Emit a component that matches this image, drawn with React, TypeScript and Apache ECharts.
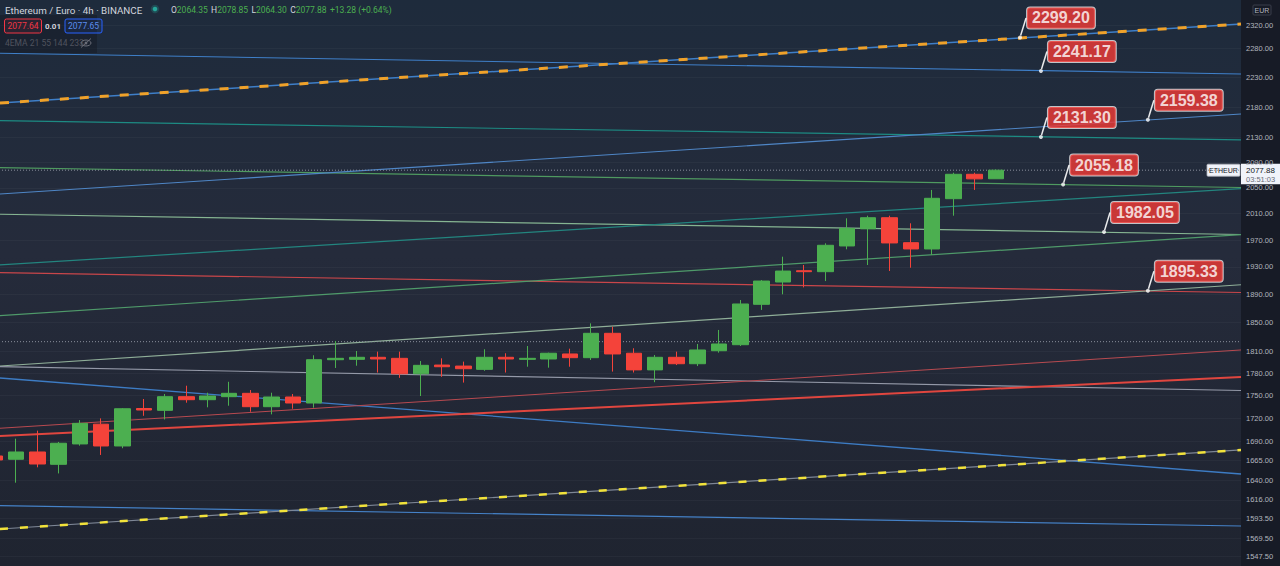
import React, { useEffect, useRef } from "react";
import * as echarts from "echarts";

// ---------- data ----------
const categories = Array.from({ length: 59 }, (_, i) => `bar${i + 1}`);

const candleOpen = [
  1670.9, 1666.7, 1676.0, 1660.3, 1686.3, 1711.9, 1683.7, 1732.5, 1730.1, 1748.2,
  1744.2, 1748.2, 1752.7, 1734.9, 1747.8, 1739.8, 1798.2, 1798.7, 1801.5, 1800.1,
  1779.0, 1790.9, 1789.5, 1785.0, 1801.5, 1798.7, 1799.2, 1806.1, 1801.0, 1834.8,
  1807.1, 1784.3, 1801.5, 1792.7, 1810.6, 1818.9, 1875.8, 1908.0, 1924.5, 1923.1,
  1961.2, 1987.0, 2003.9, 1966.1, 1956.7, 2033.2, 2071.4, 2064.35,
];
const candleClose = [
  1665.8, 1676.0, 1660.7, 1687.2, 1713.0, 1683.7, 1732.2, 1730.5, 1748.2, 1744.2,
  1749.1, 1752.7, 1734.9, 1747.8, 1739.8, 1798.2, 1800.1, 1801.5, 1799.2, 1779.0,
  1790.5, 1788.6, 1785.9, 1801.5, 1799.2, 1800.1, 1807.1, 1801.0, 1834.8, 1806.1,
  1784.3, 1801.5, 1792.7, 1811.6, 1819.9, 1876.3, 1909.4, 1924.0, 1923.1, 1962.2,
  1987.4, 2003.9, 1965.7, 1956.7, 2033.8, 2071.4, 2064.2, 2077.88,
];
const candleLow = [
  1664.5, 1637.2, 1656.5, 1648.8, 1684.1, 1672.2, 1680.8, 1722.9, 1718.1, 1740.2,
  1734.1, 1736.2, 1728.2, 1724.8, 1732.2, 1733.6, 1786.9, 1790.0, 1780.7, 1773.5,
  1749.1, 1774.9, 1767.1, 1783.1, 1780.7, 1788.6, 1787.3, 1788.6, 1797.8, 1782.0,
  1780.7, 1767.6, 1790.9, 1789.5, 1807.9, 1817.1, 1867.8, 1890.2, 1900.2, 1909.4,
  1956.2, 1932.9, 1924.1, 1928.9, 1947.8, 2007.0, 2046.8, 2064.3,
];
const candleHigh = [
  1672.2, 1693.1, 1703.5, 1688.9, 1717.3, 1719.5, 1733.0, 1745.1, 1751.8, 1762.9,
  1753.5, 1768.2, 1757.1, 1753.5, 1751.8, 1804.3, 1824.1, 1810.2, 1809.3, 1809.3,
  1796.4, 1800.1, 1795.6, 1812.6, 1807.1, 1817.1, 1807.9, 1813.4, 1848.8, 1844.0,
  1814.0, 1804.7, 1809.3, 1819.9, 1839.5, 1882.0, 1910.8, 1945.2, 1932.9, 1965.2,
  2003.0, 2007.0, 2007.0, 1995.4, 2046.8, 2073.9, 2073.9, 2078.85,
];

const priceTicks = [
  2320, 2280, 2230, 2180, 2130, 2090, 2050, 2010, 1970, 1930, 1890, 1850, 1810,
  1780, 1750, 1720, 1690, 1665, 1640, 1616, 1593.5, 1569.5, 1547.5,
];
const priceMin = 1536.4;
const priceMax = 2365.9;

// trend lines: price at left edge and at right edge of the plot
const trendX = [0.25, 58.5];
const trendStart = [
  2187.2, 2271.7, 2157.9, 2081.9, 2040.5, 2009.2, 1933.0, 1921.6, 1859.6,
  1789.6, 1788.7, 1773.3, 1706.6, 1696.6, 1608.8, 1580.4,
];
const trendEnd = [
  2323.0, 2236.1, 2126.6, 2050.6, 2168.9, 1978.4, 2048.9, 1892.8, 1978.3,
  1904.0, 1756.5, 1648.1, 1811.6, 1774.7, 1584.0, 1678.6,
];
// dashed overlays on trend lines (index into trend arrays)
const dashedOverlays = [0, 15];

// horizontal dotted price levels
const levelPrices = [2077.88, 1823.1];

// price callouts
const calloutX = [48.13, 49.11, 49.11, 54.13, 50.15, 52.07, 54.13];
const calloutPrices = [2299.2, 2241.17, 2131.3, 2159.38, 2055.18, 1982.05, 1895.33];

const lastPrice = 2077.88;
const countdown = "03:51:03";

// ---------- styles ----------
const OFFSET = 16; // the chart canvas starts 16px left of the page
const trendStyles = [
  { color: "#3f7fc8", width: 1.5 },
  { color: "#3f7fc8", width: 1.2 },
  { color: "#1d8b83", width: 1.2 },
  { color: "#4f9a60", width: 1.2 },
  { color: "#4f86c6", width: 1.2 },
  { color: "#86b592", width: 1.2 },
  { color: "#23857f", width: 1.2 },
  { color: "#c9464a", width: 1.2 },
  { color: "#4f9a6a", width: 1.2 },
  { color: "#8fae98", width: 1.2 },
  { color: "#9499a8", width: 1.2 },
  { color: "#3d7cc4", width: 1.3 },
  { color: "#b84a50", width: 1 },
  { color: "#e0463f", width: 2 },
  { color: "#4582c8", width: 1.2 },
  { color: "#7e8796", width: 1.2 },
];
const overlayStyles = [
  { color: "#f0a22a", width: 3, dash: [9, 11] },
  { color: "#f2e33a", width: 2.5, dash: [8, 12] },
];

const ln = Math.log;

function buildOption(): any {
  const series: any[] = [];
  trendStart.forEach((s, i) => {
    series.push({
      type: "line",
      xAxisIndex: 1,
      yAxisIndex: 0,
      data: [
        [trendX[0], ln(s)],
        [trendX[1], ln(trendEnd[i])],
      ],
      symbol: "none",
      silent: true,
      z: 2,
      lineStyle: { color: trendStyles[i].color, width: trendStyles[i].width },
    });
  });
  dashedOverlays.forEach((ti, k) => {
    series.push({
      type: "line",
      xAxisIndex: 1,
      yAxisIndex: 0,
      data: [
        [trendX[0], ln(trendStart[ti])],
        [trendX[1], ln(trendEnd[ti])],
      ],
      symbol: "none",
      silent: true,
      z: 3,
      lineStyle: {
        color: overlayStyles[k].color,
        width: overlayStyles[k].width,
        type: overlayStyles[k].dash,
      },
    });
  });
  levelPrices.forEach((p) => {
    series.push({
      type: "line",
      xAxisIndex: 1,
      yAxisIndex: 0,
      data: [
        [-0.5, ln(p)],
        [58.5, ln(p)],
      ],
      symbol: "none",
      silent: true,
      z: 2,
      lineStyle: { color: "#8a8f9c", width: 1, type: [1, 2] },
    });
  });
  series.push({
    type: "candlestick",
    xAxisIndex: 0,
    yAxisIndex: 0,
    barWidth: 16,
    z: 5,
    data: candleOpen.map((o, i) => [ln(o), ln(candleClose[i]), ln(candleLow[i]), ln(candleHigh[i])]),
    itemStyle: {
      color: "#4caf50",
      color0: "#f4433a",
      borderColor: "#4caf50",
      borderColor0: "#f4433a",
      borderWidth: 1,
    },
  });
  series.push({
    type: "scatter",
    xAxisIndex: 1,
    yAxisIndex: 0,
    z: 10,
    symbol: "circle",
    symbolSize: 4,
    itemStyle: { color: "#ffffff" },
    data: calloutX.map((x, i) => [x, ln(calloutPrices[i])]),
    label: {
      show: true,
      position: [9, -28],
      formatter: (p: any) => calloutPrices[p.dataIndex].toFixed(2),
      color: "#ffffff",
      fontSize: 16,
      fontWeight: "bold",
      fontFamily: "Liberation Sans",
      backgroundColor: "#f23b36",
      borderColor: "rgba(255,255,255,0.9)",
      borderWidth: 1,
      borderRadius: 3,
      padding: [2, 5, 2, 5],
      lineHeight: 17,
    },
    labelLine: { show: true, lineStyle: { color: "rgba(255,255,255,0.9)", width: 1.5 } },
  });

  const tickLn = priceTicks.map((p) => ln(p));
  return {
    animation: false,
    backgroundColor: "#171b26",
    grid: {
      left: 0,
      right: 39,
      top: 0,
      bottom: 0,
      show: true,
      borderWidth: 0,
      backgroundColor: new echarts.graphic.LinearGradient(0, 0, 0, 1, [
        { offset: 0, color: "#1e2b3c" },
        { offset: 0.45, color: "#252b3b" },
        { offset: 1, color: "#1f2430" },
      ]),
    },
    xAxis: [
      {
        type: "category",
        data: categories,
        boundaryGap: true,
        axisLine: { show: false },
        axisTick: { show: false },
        axisLabel: { show: false },
        splitLine: { show: false },
      },
      {
        type: "value",
        min: -0.5,
        max: 58.5,
        show: false,
        splitLine: { show: false },
      },
    ],
    yAxis: [
      {
        type: "value",
        position: "right",
        min: ln(priceMin),
        max: ln(priceMax),
        axisLine: { show: false },
        axisTick: { show: false, customValues: tickLn },
        axisLabel: {
          customValues: tickLn,
          formatter: (v: number) => Math.exp(v).toFixed(2),
          color: "#b2b5be",
          fontSize: 7.5,
          fontFamily: "Liberation Sans",
          margin: 5,
        },
        splitLine: { show: true, lineStyle: { color: "rgba(255,255,255,0.035)", width: 1 } },
      },
    ],
    series,
  };
}

function buildGraphics(yLast: number): any[] {
  const f = (s: number) => `${s}px Roboto`;
  const o = OFFSET;
  return [
    { type: "rect", silent: true, shape: { x: o, y: 15, width: 97, height: 38 }, style: { fill: "rgba(20,24,34,0.45)" } },
    {
      type: "text",
      x: o + 5,
      y: 10,
      style: { text: "Ethereum / Euro · 4h · BINANCE", fill: "#d1d4dc", font: f(9.8), verticalAlign: "middle" },
    },
    { type: "circle", shape: { cx: o + 155, cy: 9, r: 4.2 }, style: { fill: "rgba(38,166,154,0.25)" } },
    { type: "circle", shape: { cx: o + 155, cy: 9, r: 2.3 }, style: { fill: "#26a69a" } },
    {
      type: "text",
      x: o + 171,
      y: 10,
      style: {
        text: "{l|O}{v|2064.35} {l|H}{v|2078.85} {l|L}{v|2064.30} {l|C}{v|2077.88} {v|+13.28 (+0.64%)}",
        verticalAlign: "middle",
        rich: {
          l: { fill: "#d1d4dc", font: f(8.5) },
          v: { fill: "#4caf50", font: f(8.5) },
        },
      },
    },
    {
      type: "rect",
      shape: { x: o + 4.5, y: 19, width: 37, height: 14, r: 2 },
      style: { fill: "rgba(242,54,69,0.08)", stroke: "#f23645", lineWidth: 1 },
    },
    {
      type: "text",
      x: o + 23,
      y: 26,
      style: { text: "2077.64", fill: "#f23645", font: f(8.5), align: "center", verticalAlign: "middle" },
    },
    {
      type: "text",
      x: o + 53,
      y: 26,
      style: { text: "0.01", fill: "#d1d4dc", font: `bold 8px Roboto`, align: "center", verticalAlign: "middle" },
    },
    {
      type: "rect",
      shape: { x: o + 65, y: 19, width: 37, height: 14, r: 2 },
      style: { fill: "rgba(41,98,255,0.08)", stroke: "#2962ff", lineWidth: 1 },
    },
    {
      type: "text",
      x: o + 83.5,
      y: 26,
      style: { text: "2077.65", fill: "#5b8def", font: f(8.5), align: "center", verticalAlign: "middle" },
    },
    {
      type: "text",
      x: o + 5,
      y: 43,
      style: { text: "4EMA 21 55 144 233", fill: "#50535e", font: f(8.5), verticalAlign: "middle" },
    },
    { type: "ellipse", shape: { cx: o + 86, cy: 43, rx: 5, ry: 3 }, style: { fill: "none", stroke: "#6a6d78", lineWidth: 1 } },
    { type: "circle", shape: { cx: o + 86, cy: 43, r: 1.4 }, style: { fill: "#6a6d78" } },
    { type: "line", shape: { x1: o + 81, y1: 47.5, x2: o + 91, y2: 38.5 }, style: { stroke: "#6a6d78", lineWidth: 1 } },
    // currency box
    {
      type: "rect",
      shape: { x: o + 1253, y: 5, width: 18, height: 10, r: 1 },
      style: { fill: "#171b26", stroke: "#3a3e4a", lineWidth: 1 },
    },
    {
      type: "text",
      x: o + 1262,
      y: 10,
      style: { text: "EUR", fill: "#b2b5be", font: "7px Liberation Sans", align: "center", verticalAlign: "middle" },
    },
    // last price tag
    {
      type: "rect",
      shape: { x: o + 1241, y: yLast - 6.5, width: 39, height: 20.5 },
      style: { fill: "#f0f3fa" },
    },
    {
      type: "text",
      x: o + 1246,
      y: yLast,
      style: { text: lastPrice.toFixed(2), fill: "#131722", font: "8px Liberation Sans", verticalAlign: "middle" },
    },
    {
      type: "text",
      x: o + 1246,
      y: yLast + 9,
      style: { text: countdown, fill: "#6a6d78", font: "7.5px Liberation Sans", verticalAlign: "middle" },
    },
    {
      type: "rect",
      shape: { x: o + 1207, y: yLast - 6, width: 33, height: 12, r: 1 },
      style: { fill: "#f0f3fa", stroke: "#b2b5be", lineWidth: 0.8 },
    },
    {
      type: "text",
      x: o + 1223.5,
      y: yLast,
      style: { text: "ETHEUR", fill: "#131722", font: "7px Liberation Sans", align: "center", verticalAlign: "middle" },
    },
  ];
}

export default function App() {
  const ref = useRef<HTMLDivElement>(null);
  useEffect(() => {
    document.body.style.margin = "0";
    document.body.style.overflow = "hidden";
    const chart = echarts.init(ref.current as HTMLDivElement, null, { renderer: "svg" });
    chart.setOption(buildOption());
    const yLast = chart.convertToPixel({ yAxisIndex: 0 } as any, ln(lastPrice)) as unknown as number;
    chart.setOption({ graphic: buildGraphics(yLast) });
    return () => chart.dispose();
  }, []);
  return (
    <div
      ref={ref}
      style={{ position: "fixed", left: -OFFSET, top: 0, width: 1280 + OFFSET, height: 566 }}
    />
  );
}
